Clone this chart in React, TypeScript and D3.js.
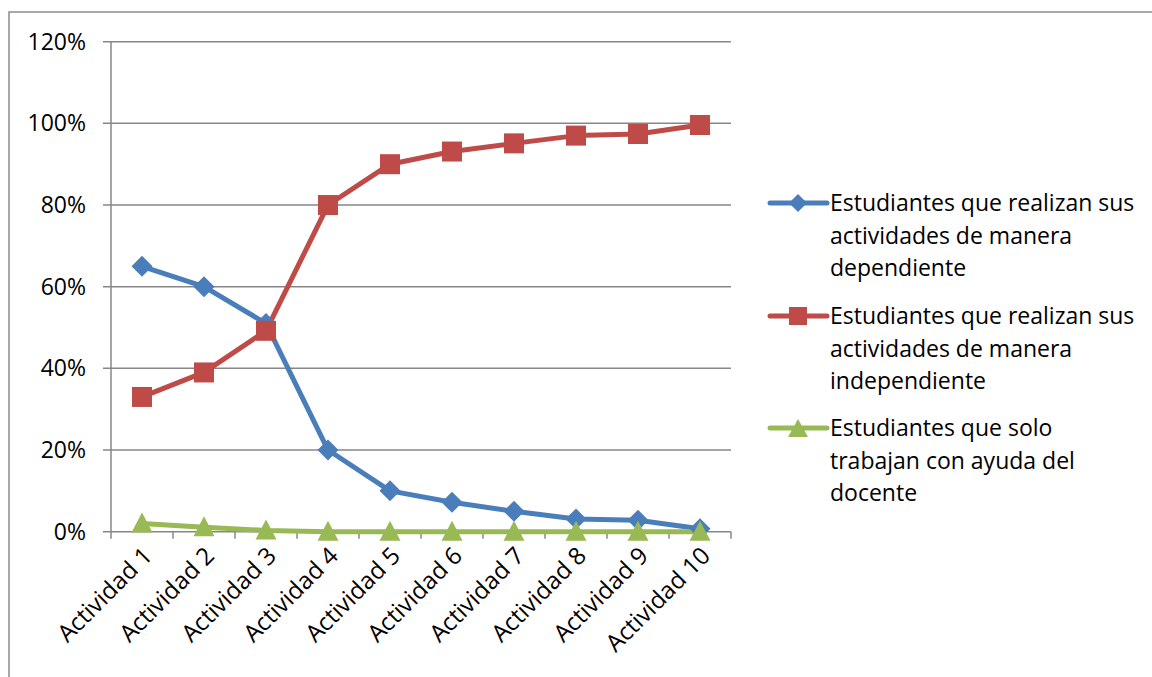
import * as d3 from "d3";

const categories = [
  "Actividad 1",
  "Actividad 2",
  "Actividad 3",
  "Actividad 4",
  "Actividad 5",
  "Actividad 6",
  "Actividad 7",
  "Actividad 8",
  "Actividad 9",
  "Actividad 10",
];

const dependiente = [0.65, 0.6, 0.51, 0.2, 0.1, 0.072, 0.05, 0.031, 0.028, 0.007];
const independiente = [0.33, 0.39, 0.492, 0.8, 0.9, 0.931, 0.951, 0.97, 0.974, 0.996];
const soloDocente = [0.02, 0.011, 0.003, 0, 0, 0, 0, 0, 0, 0];

const yTicks = [0, 0.2, 0.4, 0.6, 0.8, 1.0, 1.2];

const seriesNames = [
  ["Estudiantes que realizan sus", "actividades de manera", "dependiente"],
  ["Estudiantes que realizan sus", "actividades de manera", "independiente"],
  ["Estudiantes que solo", "trabajan con ayuda del", "docente"],
];

const COLORS = ["#4A7EBB", "#BE4B48", "#98B954"];
const FONT = "'Open Sans', sans-serif";

const W = 1152;
const H = 677;
const plot = { left: 111, right: 731, top: 41.7, bottom: 531.7 };

function Marker({ kind, x, y, color }: { kind: number; x: number; y: number; color: string }) {
  if (kind === 0) {
    const r = 10.5;
    return (
      <path
        d={`M${x},${y - r}L${x + r},${y}L${x},${y + r}L${x - r},${y}Z`}
        fill={color}
      />
    );
  }
  if (kind === 1) {
    return <rect x={x - 10} y={y - 10} width={20} height={20} fill={color} />;
  }
  return (
    <path
      d={`M${x},${y - 11}L${x + 10.5},${y + 9}L${x - 10.5},${y + 9}Z`}
      fill={color}
    />
  );
}

export default function App() {
  const x = d3
    .scaleBand<string>()
    .domain(categories)
    .range([plot.left, plot.right]);
  const y = d3.scaleLinear().domain([0, 1.2]).range([plot.bottom, plot.top]);
  const cx = (c: string) => (x(c) ?? 0) + x.bandwidth() / 2;

  const series = [dependiente, independiente, soloDocente];
  const line = d3
    .line<number>()
    .x((_, i) => cx(categories[i]))
    .y((d) => y(d));

  const axisColor = "#878787";
  const bounds = [...categories.map((c) => x(c) ?? 0), plot.right];

  // legend layout
  const legX = 770;
  const legTextX = 830;
  const legTop = [203, 316, 428];
  const legLine = 32.5;

  return (
    <div style={{ position: "absolute", left: 0, top: 0 }}>
      <svg width={W} height={H} style={{ display: "block", fontFamily: FONT }}>
        <rect x={0} y={0} width={W} height={H} fill="#fff" />
        {/* chart frame */}
        <rect
          x={9}
          y={12}
          width={W + 20}
          height={H + 20}
          fill="none"
          stroke="#8c8c8c"
          strokeWidth={1.5}
        />

        {/* gridlines + y ticks */}
        {yTicks.map((t) => (
          <g key={t}>
            <line
              x1={103}
              x2={plot.right}
              y1={y(t)}
              y2={y(t)}
              stroke={axisColor}
              strokeWidth={1.5}
            />
            <text
              x={86}
              y={y(t) + 8}
              textAnchor="end"
              fontSize={23}
              fill="#000"
            >
              {Math.round(t * 100)}%
            </text>
          </g>
        ))}

        {/* y axis */}
        <line
          x1={plot.left}
          x2={plot.left}
          y1={plot.top}
          y2={plot.bottom}
          stroke={axisColor}
          strokeWidth={1.5}
        />
        {/* x tick marks */}
        {bounds.map((b, i) => (
          <line
            key={i}
            x1={b}
            x2={b}
            y1={plot.bottom}
            y2={plot.bottom + 7}
            stroke={axisColor}
            strokeWidth={1.5}
          />
        ))}

        {/* x labels */}
        {categories.map((c) => (
          <text
            key={c}
            transform={`translate(${cx(c) + 6},${plot.bottom + 20}) rotate(-45)`}
            textAnchor="end"
            fontSize={24}
            fill="#000"
            dy={8}
          >
            {c}
          </text>
        ))}

        {/* series lines */}
        {series.map((s, k) => (
          <path
            key={k}
            d={line(s) ?? ""}
            fill="none"
            stroke={COLORS[k]}
            strokeWidth={5}
            strokeLinejoin="round"
          />
        ))}
        {series.map((s, k) =>
          s.map((v, i) => (
            <Marker key={`${k}-${i}`} kind={k} x={cx(categories[i])} y={y(v)} color={COLORS[k]} />
          )),
        )}

        {/* legend */}
        {seriesNames.map((lines, k) => (
          <g key={k}>
            <line
              x1={legX}
              x2={legX + 57}
              y1={legTop[k]}
              y2={legTop[k]}
              stroke={COLORS[k]}
              strokeWidth={5}
              strokeLinecap="round"
            />
            {k === 0 ? (
              <path
                d={`M${legX + 28},${legTop[k] - 9}L${legX + 37},${legTop[k]}L${legX + 28},${legTop[k] + 9}L${legX + 19},${legTop[k]}Z`}
                fill={COLORS[k]}
              />
            ) : k === 1 ? (
              <rect x={legX + 19} y={legTop[k] - 9} width={18} height={18} fill={COLORS[k]} />
            ) : (
              <path
                d={`M${legX + 28},${legTop[k] - 9}L${legX + 38},${legTop[k] + 9}L${legX + 18},${legTop[k] + 9}Z`}
                fill={COLORS[k]}
              />
            )}
            {lines.map((ln, j) => (
              <text
                key={j}
                x={legTextX}
                y={legTop[k] + j * legLine + 8}
                fontSize={23}
                fill="#000"
              >
                {ln}
              </text>
            ))}
          </g>
        ))}
      </svg>
    </div>
  );
}
